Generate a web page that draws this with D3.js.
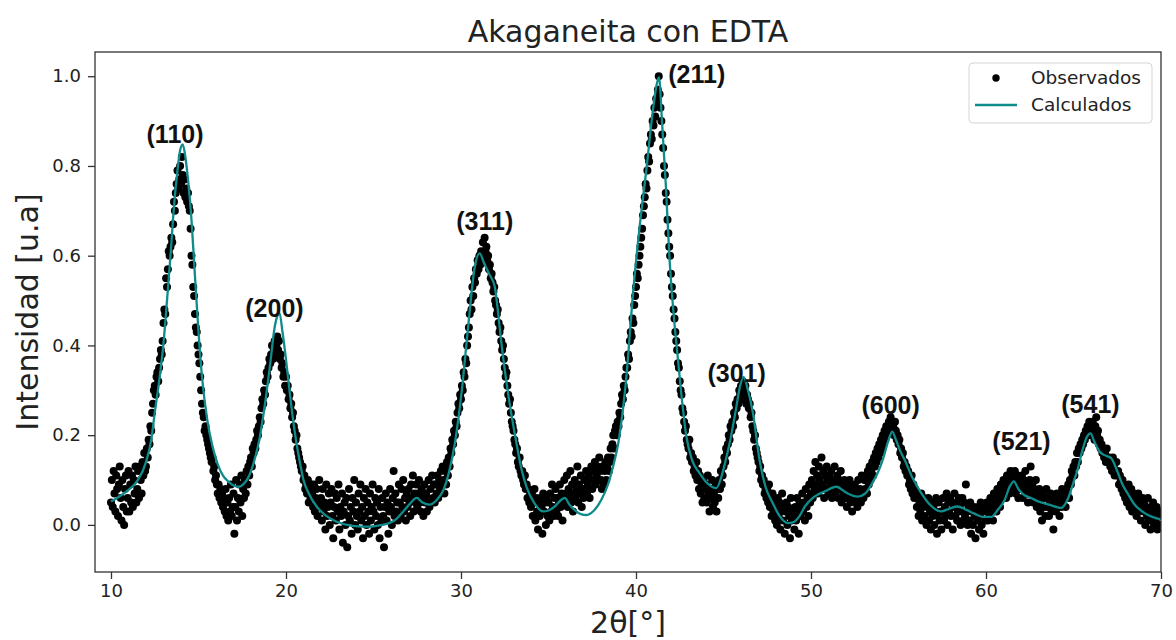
<!DOCTYPE html>
<html>
<head>
<meta charset="utf-8">
<script src="https://cdn.jsdelivr.net/npm/d3@7"></script>
<style>
  body { margin: 0; background: #fff; }
  svg text { font-family: "DejaVu Sans", sans-serif; fill: #222; }
</style>
</head>
<body>
<svg id="chart" width="1176" height="640"></svg>
<script>
// Scan settings for the measured pattern (2θ start and step, degrees)
const scanStart = 10;
const scanStep = 0.05;

// Observed intensities, one line per degree of 2θ (20 steps each)
const observed = [
  0.05,0.10,0.04,0.12,0.07,0.03,0.11,0.08,0.02,0.09,0.13,0.06,0.01,0.10,0.04,0.00,0.08,0.11,0.03,0.06,
  0.12,0.03,0.09,0.05,0.11,0.04,0.10,0.07,0.13,0.05,0.08,0.12,0.06,0.13,0.10,0.07,0.14,0.11,0.16,0.12,
  0.13,0.17,0.15,0.19,0.18,0.22,0.21,0.25,0.27,0.30,0.31,0.29,0.33,0.34,0.32,0.35,0.37,0.39,0.38,0.41,
  0.45,0.48,0.47,0.55,0.53,0.57,0.61,0.60,0.62,0.64,0.63,0.67,0.72,0.70,0.74,0.76,0.79,0.75,0.77,0.80,
  0.76,0.82,0.78,0.74,0.77,0.73,0.75,0.72,0.74,0.71,0.70,0.66,0.60,0.58,0.53,0.51,0.47,0.44,0.43,0.40,
  0.38,0.36,0.33,0.30,0.27,0.25,0.24,0.21,0.22,0.20,0.19,0.18,0.17,0.16,0.15,0.14,0.15,0.12,0.13,0.10,
  0.11,0.09,0.07,0.09,0.06,0.08,0.05,0.07,0.04,0.06,0.03,0.08,0.02,0.05,0.01,0.06,0.03,0.09,0.02,0.04,
  0.07,-0.02,0.04,0.10,0.01,0.06,0.03,0.09,0.05,0.11,0.02,0.08,0.06,0.10,0.07,0.12,0.09,0.13,0.11,0.14,
  0.15,0.13,0.17,0.16,0.18,0.17,0.19,0.21,0.20,0.22,0.24,0.23,0.26,0.28,0.27,0.30,0.29,0.32,0.34,0.33,
  0.35,0.37,0.36,0.38,0.40,0.37,0.39,0.41,0.38,0.40,0.42,0.39,0.41,0.37,0.38,0.35,0.36,0.33,0.34,0.31,
  0.33,0.30,0.31,0.28,0.29,0.26,0.27,0.24,0.25,0.22,0.21,0.19,0.20,0.17,0.16,0.15,0.14,0.13,0.12,0.13,
  0.10,0.11,0.08,0.09,0.07,0.10,0.05,0.08,0.06,0.09,0.07,0.04,0.09,0.03,0.06,0.08,0.02,0.05,0.10,0.04,
  0.06,0.01,0.08,0.03,0.05,-0.01,0.09,0.02,0.04,0.07,0.00,0.05,0.08,0.02,-0.03,0.04,0.07,0.01,0.06,0.03,
  0.09,-0.01,0.04,0.02,0.07,-0.04,0.03,0.05,0.00,0.06,-0.05,0.02,0.08,0.01,0.04,-0.02,0.06,0.03,0.10,0.00,
  0.05,0.02,-0.01,0.07,0.03,0.09,0.01,0.04,-0.03,0.06,0.02,0.08,0.00,0.05,0.03,-0.02,0.07,0.01,0.04,0.09,
  0.03,-0.01,0.06,0.02,0.05,0.00,0.08,-0.03,0.04,0.01,0.06,0.02,-0.05,0.04,0.07,0.01,0.05,-0.02,0.03,0.08,
  0.04,0.00,0.06,0.12,0.02,0.07,0.03,0.05,0.01,0.09,0.05,0.02,0.08,0.04,0.10,0.03,0.06,0.01,0.07,0.04,
  0.08,0.05,0.02,0.09,0.06,0.11,0.03,0.07,0.05,0.09,0.04,0.07,0.10,0.05,0.03,0.08,0.06,0.02,0.09,0.05,
  0.07,0.03,0.06,0.10,0.04,0.08,0.05,0.11,0.06,0.09,0.05,0.09,0.07,0.11,0.06,0.10,0.08,0.12,0.09,0.13,
  0.10,0.07,0.12,0.09,0.14,0.11,0.15,0.13,0.17,0.16,0.19,0.18,0.21,0.20,0.23,0.22,0.25,0.27,0.26,0.29,
  0.28,0.31,0.30,0.34,0.33,0.37,0.36,0.40,0.42,0.44,0.47,0.50,0.48,0.53,0.51,0.55,0.54,0.57,0.56,0.59,
  0.57,0.60,0.58,0.61,0.59,0.63,0.60,0.64,0.61,0.62,0.59,0.60,0.57,0.58,0.55,0.56,0.54,0.52,0.53,0.50,
  0.49,0.47,0.48,0.45,0.43,0.44,0.41,0.39,0.40,0.37,0.35,0.33,0.34,0.31,0.29,0.27,0.28,0.25,0.23,0.22,
  0.21,0.19,0.18,0.16,0.17,0.14,0.13,0.15,0.12,0.11,0.12,0.10,0.09,0.11,0.08,0.09,0.06,0.08,0.05,0.07,
  0.04,0.07,0.02,0.05,0.08,0.01,0.06,0.03,-0.01,0.05,0.02,0.06,0.04,-0.02,0.07,0.03,0.05,0.00,0.06,0.02,
  0.05,0.01,0.07,0.03,0.09,0.04,0.02,0.06,0.08,0.03,0.06,0.02,0.05,0.09,0.04,0.07,0.01,0.06,0.10,0.05,
  0.07,0.11,0.04,0.08,0.06,0.12,0.05,0.09,0.03,0.07,0.10,0.06,0.08,0.13,0.05,0.09,0.07,0.11,0.04,0.08,
  0.06,0.10,0.08,0.12,0.07,0.09,0.11,0.06,0.10,0.13,0.08,0.12,0.10,0.14,0.09,0.11,0.13,0.10,0.15,0.12,
  0.10,0.08,0.13,0.09,0.12,0.14,0.10,0.13,0.15,0.12,0.14,0.17,0.15,0.18,0.20,0.17,0.21,0.22,0.20,0.23,
  0.22,0.25,0.24,0.27,0.29,0.28,0.31,0.30,0.33,0.35,0.35,0.38,0.37,0.41,0.43,0.42,0.46,0.45,0.49,0.51,
  0.53,0.56,0.55,0.58,0.60,0.62,0.64,0.66,0.69,0.71,0.73,0.76,0.75,0.79,0.82,0.81,0.85,0.87,0.86,0.90,
  0.89,0.93,0.91,0.95,0.94,0.97,1.00,0.96,0.93,0.90,0.87,0.84,0.80,0.78,0.74,0.72,0.68,0.65,0.62,0.60,
  0.56,0.53,0.51,0.48,0.46,0.43,0.41,0.39,0.36,0.35,0.32,0.30,0.29,0.26,0.25,0.23,0.21,0.22,0.19,0.18,
  0.17,0.19,0.15,0.16,0.14,0.15,0.12,0.13,0.11,0.14,0.10,0.12,0.08,0.11,0.07,0.09,0.05,0.10,0.06,0.08,
  0.09,0.05,0.11,0.07,0.03,0.08,0.06,0.10,0.04,0.07,0.05,0.09,0.03,0.08,0.06,0.10,0.08,0.12,0.09,0.11,
  0.13,0.15,0.14,0.17,0.16,0.18,0.20,0.19,0.22,0.21,0.23,0.22,0.25,0.24,0.27,0.26,0.28,0.27,0.30,0.29,
  0.31,0.28,0.32,0.30,0.29,0.31,0.27,0.29,0.28,0.26,0.27,0.24,0.25,0.22,0.21,0.19,0.20,0.17,0.16,0.15,
  0.14,0.12,0.13,0.10,0.11,0.09,0.10,0.07,0.08,0.06,0.08,0.05,0.09,0.04,0.06,0.02,0.07,0.03,0.05,0.01,
  0.04,0.00,0.06,0.02,0.05,-0.01,0.03,0.07,0.01,0.04,-0.02,0.03,0.05,0.00,0.04,0.02,-0.03,0.06,0.01,0.03,
  0.02,-0.01,0.04,0.01,0.06,0.03,-0.02,0.05,0.02,0.04,0.07,0.03,0.05,0.01,0.08,0.04,0.06,0.02,0.09,0.05,
  0.07,0.10,0.06,0.12,0.08,0.14,0.09,0.11,0.07,0.13,0.10,0.08,0.15,0.09,0.12,0.06,0.11,0.08,0.13,0.10,
  0.07,0.11,0.09,0.12,0.06,0.10,0.08,0.13,0.07,0.09,0.11,0.06,0.10,0.08,0.12,0.05,0.09,0.07,0.10,0.06,
  0.08,0.04,0.09,0.06,0.10,0.05,0.07,0.03,0.08,0.06,0.09,0.05,0.07,0.04,0.10,0.06,0.08,0.05,0.11,0.07,
  0.06,0.10,0.08,0.11,0.07,0.12,0.09,0.13,0.10,0.12,0.14,0.11,0.15,0.13,0.16,0.14,0.17,0.15,0.18,0.16,
  0.19,0.17,0.20,0.18,0.21,0.19,0.22,0.20,0.21,0.23,0.22,0.24,0.21,0.23,0.22,0.20,0.23,0.21,0.19,0.20,
  0.18,0.19,0.16,0.17,0.15,0.16,0.13,0.14,0.12,0.13,0.11,0.12,0.09,0.10,0.08,0.11,0.07,0.09,0.06,0.08,
  0.07,0.04,0.06,0.02,0.05,0.03,0.07,0.01,0.04,0.06,0.02,0.05,0.00,0.04,0.06,0.01,0.03,-0.01,0.05,0.02,
  0.04,0.00,0.03,0.06,-0.02,0.02,0.05,0.01,0.03,-0.01,0.03,0.06,0.01,0.04,0.02,0.07,0.00,0.05,0.03,0.06,
  0.02,0.05,-0.01,0.04,0.07,0.02,0.05,0.01,0.03,0.06,0.04,0.00,0.03,0.06,0.01,0.05,0.02,0.09,0.03,0.00,
  0.04,0.01,0.05,-0.02,0.03,0.00,0.04,0.02,-0.03,0.03,0.01,0.04,-0.01,0.02,0.05,0.00,0.03,-0.02,0.04,0.01,
  0.03,0.05,0.01,0.04,0.02,0.06,0.03,0.05,0.01,0.07,0.04,0.06,0.03,0.08,0.05,0.07,0.04,0.09,0.06,0.08,
  0.10,0.07,0.09,0.06,0.11,0.08,0.10,0.07,0.12,0.09,0.11,0.08,0.10,0.12,0.07,0.09,0.11,0.06,0.10,0.08,
  0.09,0.11,0.06,0.10,0.08,0.12,0.07,0.09,0.05,0.08,0.10,0.13,0.07,0.09,0.05,0.08,0.06,0.10,0.04,0.07,
  0.05,0.08,0.03,0.06,0.01,0.07,0.04,0.06,0.02,0.08,0.04,0.06,0.02,0.05,0.07,0.03,0.05,-0.01,0.04,0.06,
  0.03,0.07,0.04,0.05,0.02,0.06,0.04,0.08,0.05,0.07,0.06,0.04,0.08,0.07,0.09,0.06,0.10,0.09,0.12,0.11,
  0.13,0.11,0.14,0.13,0.16,0.14,0.17,0.16,0.18,0.17,0.19,0.18,0.20,0.19,0.21,0.20,0.22,0.21,0.23,0.20,
  0.22,0.20,0.23,0.21,0.19,0.22,0.24,0.20,0.21,0.18,0.19,0.17,0.18,0.16,0.17,0.15,0.16,0.14,0.17,0.15,
  0.14,0.15,0.13,0.14,0.12,0.15,0.13,0.11,0.12,0.14,0.11,0.12,0.09,0.11,0.10,0.08,0.10,0.07,0.09,0.06,
  0.08,0.05,0.07,0.09,0.04,0.06,0.08,0.03,0.05,0.07,0.04,0.06,0.02,0.05,0.07,0.03,0.05,0.01,0.04,0.06,
  0.03,0.05,0.00,0.04,0.02,0.06,0.01,0.03,-0.01,0.04,0.02,0.05,0.00,0.03,0.01,0.04,-0.01,0.02,0.03,0.00,
  0.02
];

// Calculated (fitted) profile: 2θ positions and intensities
const calcTheta = [
  10.0,10.5,11.0,11.5,12.0,12.3,12.5,12.75,13.0,13.2,13.4,13.6,13.8,13.95,14.1,14.25,14.4,14.6,14.8,15.0,
  15.2,15.5,15.8,16.1,16.4,16.7,17.0,17.3,17.6,17.9,18.2,18.5,18.8,19.1,19.35,19.5,19.63,19.8,19.95,20.22,
  20.4,20.6,20.8,21.0,21.3,21.75,22.3,22.9,23.8,24.8,25.5,25.9,26.3,26.7,27.1,27.46,27.8,28.2,28.6,29.0,
  29.3,29.65,30.03,30.41,30.79,31.07,31.3,31.6,31.93,32.1,32.31,32.69,33.17,33.45,33.74,34.2,34.69,35.0,35.36,35.7,
  35.93,36.2,36.5,36.85,37.17,37.6,38.02,38.4,38.69,39.0,39.2,39.45,39.83,40.21,40.59,40.97,41.15,41.31,41.5,41.7,
  41.92,42.15,42.4,42.65,42.88,43.2,43.64,44.1,44.59,44.9,45.1,45.35,45.7,45.95,46.15,46.4,46.68,47.06,47.4,47.82,
  48.2,48.68,49.0,49.35,49.65,50.2,50.8,51.45,52.0,52.66,53.1,53.5,53.8,54.1,54.4,54.64,54.85,55.1,55.35,55.8,
  56.3,56.8,57.44,57.9,58.37,58.85,59.34,59.8,60.3,60.7,61.06,61.35,61.59,61.85,62.2,62.58,63.0,63.6,64.3,64.7,
  65.0,65.23,65.5,65.75,65.97,66.2,66.5,66.8,67.15,67.5,67.8,68.08,68.5,69.0,69.5,70.0
];
const calcIntensity = [
  0.052,0.064,0.078,0.098,0.14,0.19,0.25,0.32,0.405,0.50,0.60,0.71,0.79,0.835,0.848,0.82,0.77,0.68,0.553,0.43,
  0.33,0.234,0.175,0.135,0.11,0.097,0.088,0.085,0.092,0.11,0.145,0.195,0.27,0.36,0.44,0.465,0.472,0.43,0.385,0.293,
  0.235,0.182,0.138,0.10,0.07,0.041,0.02,0.007,-0.002,-0.004,0.0,0.004,0.013,0.03,0.048,0.06,0.05,0.045,0.055,0.078,
  0.115,0.182,0.294,0.442,0.576,0.605,0.585,0.56,0.531,0.48,0.405,0.293,0.182,0.125,0.085,0.048,0.03,0.032,0.041,0.055,
  0.06,0.045,0.033,0.024,0.022,0.032,0.056,0.09,0.13,0.185,0.24,0.33,0.516,0.665,0.791,0.925,0.975,0.998,0.89,0.76,
  0.59,0.47,0.368,0.27,0.197,0.145,0.115,0.092,0.082,0.11,0.14,0.182,0.255,0.31,0.33,0.30,0.25,0.145,0.085,0.048,
  0.02,0.004,0.006,0.02,0.041,0.063,0.075,0.085,0.072,0.063,0.07,0.093,0.115,0.145,0.185,0.208,0.19,0.165,0.145,0.105,
  0.071,0.045,0.03,0.036,0.041,0.034,0.025,0.018,0.018,0.035,0.055,0.085,0.097,0.08,0.066,0.06,0.052,0.045,0.038,0.06,
  0.095,0.123,0.165,0.195,0.204,0.185,0.163,0.155,0.149,0.12,0.09,0.071,0.045,0.028,0.018,0.012
];

// Miller indices of the indexed reflections and where their tags sit (2θ, intensity)
const peakHkl = ["(110)", "(200)", "(311)", "(211)", "(301)", "(600)", "(521)", "(541)"];
const peakTagTheta = [13.66, 19.34, 31.36, 43.47, 45.75, 54.55, 62.03, 65.97];
const peakTagIntensity = [0.851, 0.464, 0.657, 0.985, 0.319, 0.247, 0.167, 0.25];

const xTicks = [10, 20, 30, 40, 50, 60, 70];
const yTicks = [0.0, 0.2, 0.4, 0.6, 0.8, 1.0];

const svg = d3.select("#chart");
const plot = { left: 95, right: 1161, top: 52, bottom: 572 };

const x = d3.scaleLinear().domain([9.086, 70]).range([plot.left, plot.right]);
const y = d3.scaleLinear().domain([-0.105, 1.054]).range([plot.bottom, plot.top]);

const obsPoints = observed.map((v, i) => [scanStart + i * scanStep, v]);
const calcPoints = calcTheta.map((t, i) => [t, calcIntensity[i]]);

svg.append("defs").append("clipPath").attr("id", "plotClip")
  .append("rect")
  .attr("x", plot.left).attr("y", plot.top)
  .attr("width", plot.right - plot.left).attr("height", plot.bottom - plot.top);

const body = svg.append("g").attr("clip-path", "url(#plotClip)");

// Observed scan as filled dots
body.append("g")
  .selectAll("circle")
  .data(obsPoints)
  .join("circle")
  .attr("cx", d => x(d[0]))
  .attr("cy", d => y(d[1]))
  .attr("r", 4)
  .attr("fill", "#000");

// Calculated profile on top
body.append("path")
  .datum(calcPoints)
  .attr("fill", "none")
  .attr("stroke", "#0f8b8b")
  .attr("stroke-width", 2.3)
  .attr("stroke-linejoin", "round")
  .attr("d", d3.line().x(d => x(d[0])).y(d => y(d[1])).curve(d3.curveMonotoneX));

// Reflection tags
svg.append("g")
  .selectAll("text")
  .data(peakHkl)
  .join("text")
  .attr("x", (d, i) => x(peakTagTheta[i]))
  .attr("y", (d, i) => y(peakTagIntensity[i]))
  .attr("text-anchor", "middle")
  .style("font-family", "'Liberation Sans', Arial, sans-serif")
  .style("font-weight", "bold")
  .style("font-size", "25px")
  .style("fill", "#111")
  .text(d => d);

// Axes
const xAxis = svg.append("g")
  .attr("transform", `translate(0,${plot.bottom})`)
  .call(d3.axisBottom(x).tickValues(xTicks).tickFormat(d3.format("d")).tickSize(7).tickPadding(5));
const yAxis = svg.append("g")
  .attr("transform", `translate(${plot.left},0)`)
  .call(d3.axisLeft(y).tickValues(yTicks).tickFormat(d3.format(".1f")).tickSize(7).tickPadding(7));

[xAxis, yAxis].forEach(a => {
  a.select(".domain").remove();
  a.selectAll(".tick line").attr("stroke", "#333").attr("stroke-width", 1.3);
  a.selectAll(".tick text")
    .style("font-family", "'DejaVu Sans', sans-serif")
    .style("font-size", "18px")
    .attr("fill", "#222");
});

// Frame
svg.append("rect")
  .attr("x", plot.left).attr("y", plot.top)
  .attr("width", plot.right - plot.left).attr("height", plot.bottom - plot.top)
  .attr("fill", "none").attr("stroke", "#333").attr("stroke-width", 1.3);

// Title and axis labels
svg.append("text")
  .attr("x", (plot.left + plot.right) / 2).attr("y", 42)
  .attr("text-anchor", "middle")
  .style("font-size", "30px")
  .text("Akaganeita con EDTA");

svg.append("text")
  .attr("x", (plot.left + plot.right) / 2).attr("y", 633)
  .attr("text-anchor", "middle")
  .style("font-size", "30px")
  .text("2θ[°]");

svg.append("text")
  .attr("transform", `translate(38,${(plot.top + plot.bottom) / 2}) rotate(-90)`)
  .attr("text-anchor", "middle")
  .style("font-size", "30px")
  .text("Intensidad [u.a]");

// Legend
const legend = svg.append("g");
legend.append("rect")
  .attr("x", 969).attr("y", 63).attr("width", 183).attr("height", 60)
  .attr("rx", 4).attr("fill", "#fff").attr("fill-opacity", 0.8)
  .attr("stroke", "#d5d5d5").attr("stroke-width", 1);
legend.append("circle").attr("cx", 996).attr("cy", 78).attr("r", 3.7).attr("fill", "#000");
legend.append("line").attr("x1", 975).attr("x2", 1017).attr("y1", 105).attr("y2", 105)
  .attr("stroke", "#0f8b8b").attr("stroke-width", 2.3);
legend.append("text").attr("x", 1031).attr("y", 78).attr("dy", "0.35em")
  .style("font-size", "18.5px").text("Observados");
legend.append("text").attr("x", 1031).attr("y", 105).attr("dy", "0.35em")
  .style("font-size", "18.5px").text("Calculados");
</script>
</body>
</html>
